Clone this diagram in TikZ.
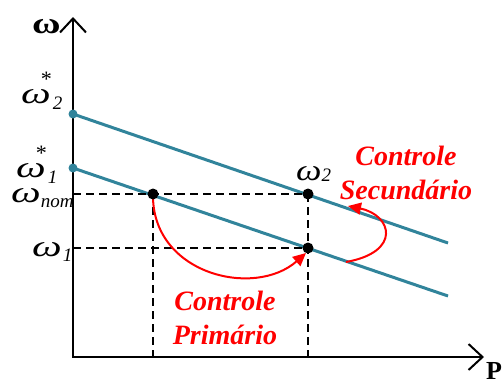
\documentclass[tikz,border=0pt]{standalone}
\usepackage{graphicx}
\usepackage{fontspec}
\setmainfont{Liberation Serif}
\usetikzlibrary{positioning,arrows.meta}
\definecolor{droop}{HTML}{31849B}
\definecolor{ctrl}{HTML}{FF0000}
\definecolor{ink}{HTML}{000000}
\newcommand{\bigw}{\fontsize{30}{30}\selectfont\itshape}
\newcommand{\smallw}{\fontsize{19}{19}\selectfont\itshape}
% a wide omega, as the reference sets it
\newcommand{\ww}{\scalebox{1.4}[1]{ω}}
% omega with a star above and an index below
\newcommand{\wref}[1]{\ww\llap{\raisebox{17pt}{\fontsize{22}{22}\selectfont *}}\hspace{2pt}\raisebox{-6pt}{\smallw #1}}

\begin{document}
\begin{tikzpicture}[x=1pt, y=-1pt,
    every node/.style={text=ink, inner sep=0pt},
    axis/.style={draw=ink, line width=2.2pt,
                 -{Straight Barb[length=14pt, width=26pt, line width=2pt]}},
    droopline/.style={draw=droop, line width=3pt},
    guide/.style={draw=ink, line width=1.5pt, dash pattern=on 8pt off 5pt},
    op/.style={circle, fill=ink, minimum size=11pt},
    ref/.style={circle, fill=droop, minimum size=9pt},
    act/.style={draw=ctrl, line width=2pt, -{Triangle[length=13pt, width=12pt]}},
    wlab/.style={font=\bigw, anchor=base west},
    ctl/.style={font=\fontsize{28}{34}\selectfont\bfseries\itshape, text=ctrl, align=center},
  ]
  \useasboundingbox (0,0) rectangle (503,386);

  % axes
  \coordinate (O)    at (73,357);
  \coordinate (ytop) at (73,17);
  \coordinate (xend) at (484,357);
  \draw[axis] ([yshift=1pt]O) -- (ytop);
  \draw[axis] ([xshift=-1pt]O) -- (xend);
  \node[font=\fontsize{30}{30}\selectfont\bfseries, anchor=base west] (wax) at (32,33) {\scalebox{1.3}[1]{ω}};
  \node[font=\fontsize{26}{26}\selectfont\bfseries, anchor=north west] (pax) at (486,362) {P};

  % the two droop lines
  \node[ref] (s2) at (73,114) {};
  \node[ref] (s1) at (73,168) {};
  \coordinate (e2) at (448,243);
  \coordinate (e1) at (448,296);
  \draw[droopline] (s2.center) -- (e2);
  \draw[droopline] (s1.center) -- (e1);

  % guides to the axes
  \coordinate (ynom) at (73,194);
  \coordinate (yw1)  at (73,248);
  \coordinate (xnom) at (153,357);
  \coordinate (xw)   at (308,357);
  \draw[guide] (ynom) -- (308,194);
  \draw[guide] (yw1) -- (308,248);
  \draw[guide] (153,194) -- (xnom);
  \draw[guide] (308,194) -- (xw);

  % control actions
  \draw[act] (153,198) .. controls (155,275) and (255,298) .. (306,253);
  \coordinate (sa) at (346,262);
  \coordinate (sb) at (348,206);
  \draw[act] (sa) .. controls (402,252) and (392,215) .. (sb);

  % operating points
  \node[op] (nom) at (153,194) {};
  \node[op] (w2)  at (308,194) {};
  \node[op] (w1)  at (308,248) {};

  % labels on the frequency axis
  \node[wlab] (l2)   at (21,103) {\wref{2}};
  \node[wlab] (l1)   at (16,177) {\wref{1}};
  \node[wlab] (lnom) at (11,202) {\ww\raisebox{-5pt}{\smallw nom}};
  \node[wlab] (lw1)  at (32,256) {\ww\hspace{1pt}\raisebox{-5pt}{\smallw 1}};
  \node[wlab] (lw2)  at (296,180) {\scalebox{1.2}[1]{ω}\raisebox{-1pt}{\smallw 2}};

  \node[ctl] (prim) at (225,318) {Controle\\Primário};
  \node[ctl] (sec)  at (406,173) {Controle\\Secundário};
\end{tikzpicture}
\end{document}
